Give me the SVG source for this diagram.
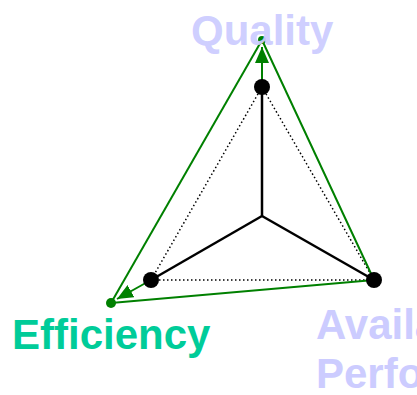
<svg xmlns="http://www.w3.org/2000/svg" width="417" height="395" viewBox="0 0 417 395">
<style>
.lbl{font-family:"Liberation Sans",Arial,sans-serif;font-weight:bold;font-size:42px}
.g{stroke:#008000;stroke-width:2;fill:none}
.k{stroke:#000;stroke-width:2.5;fill:none}
.d{stroke:#000;stroke-width:1.5;stroke-dasharray:1.5,2.5;fill:none}
</style>
<defs>
<marker id="ah" viewBox="0 0 10 10" refX="10" refY="5" markerWidth="8" markerHeight="8" orient="auto" markerUnits="userSpaceOnUse">
<path d="M0,0 L10,5 L0,10 z" fill="#008000"/>
</marker>
<marker id="ahb" viewBox="0 0 16 14" refX="16" refY="7" markerWidth="16" markerHeight="14" orient="auto" markerUnits="userSpaceOnUse">
<path d="M0,0 L16,7 L0,14 z" fill="#008000"/>
</marker>
</defs>
<g id="connectors">
<line class="d" x1="262" y1="87" x2="151" y2="280"/>
<line class="d" x1="262" y1="87" x2="374" y2="280"/>
<line class="d" x1="151" y1="280" x2="374" y2="280"/>
<line class="k" x1="262" y1="216" x2="262" y2="87"/>
<line class="k" x1="262" y1="216" x2="151" y2="280"/>
<line class="k" x1="262" y1="216" x2="374" y2="280"/>
<line class="g" x1="262" y1="40" x2="111" y2="303"/>
<line class="g" x1="262" y1="40" x2="374" y2="280"/>
<line class="g" x1="111" y1="303" x2="374" y2="280"/>
<line class="g" x1="262" y1="87" x2="262" y2="47" marker-end="url(#ahb)"/>
<line class="g" x1="151" y1="280" x2="117" y2="299" marker-end="url(#ahb)"/>
</g>
<g id="outer-top"><circle cx="262" cy="40" r="4" fill="#008000"/></g>
<g id="outer-left"><circle cx="111" cy="303" r="5" fill="#008000"/></g>
<g id="quality-node"><circle cx="262" cy="87" r="8" fill="#000"/></g>
<g id="efficiency-node"><circle cx="151" cy="280" r="8" fill="#000"/></g>
<g id="availability-node"><circle cx="374" cy="280" r="8" fill="#000"/></g>
<g id="quality-label"><text class="lbl" x="191" y="45" fill="#ccccff" fill-opacity="0.95">Quality</text></g>
<g id="efficiency-label"><text class="lbl" x="12" y="349" fill="#00cc99">Efficiency</text></g>
<g id="availability-label"><text class="lbl" x="316" y="339" fill="#ccccff">Availability</text><text class="lbl" x="316" y="388" fill="#ccccff">Performance</text></g>
</svg>
